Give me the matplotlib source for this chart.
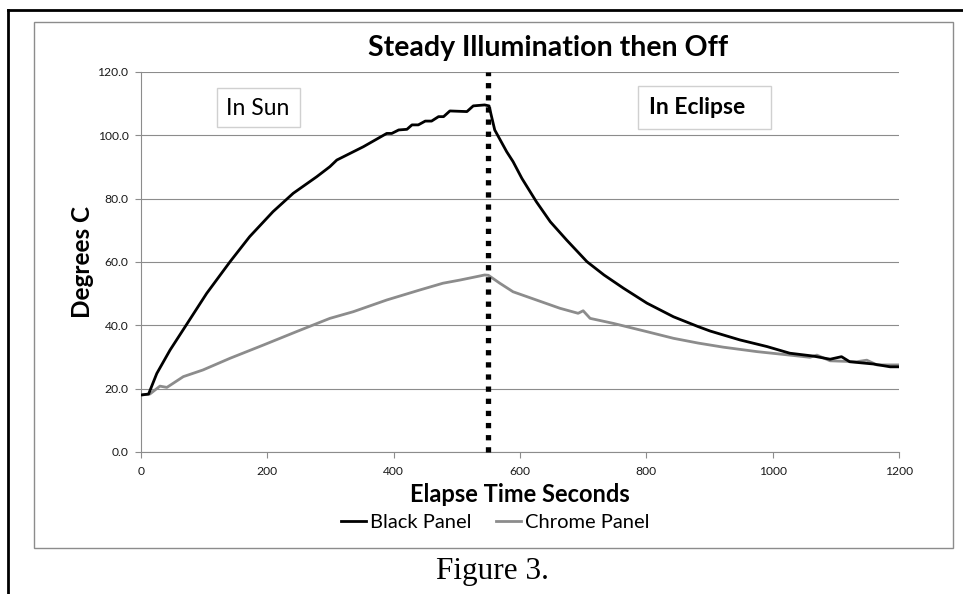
import matplotlib
matplotlib.use('Agg')
import matplotlib.pyplot as plt
from matplotlib.patches import Rectangle
from matplotlib.lines import Line2D

# values
black_t = [0, 12, 25, 46, 70, 104, 141, 172, 209, 241, 278, 299, 310, 352, 389, 397,
           408, 421, 429, 439, 450, 460, 471, 479, 489, 516, 526, 544, 551, 555, 560,
           579, 589, 603, 626, 648, 674, 706, 733, 764, 801, 843, 882, 901, 948, 991,
           1027, 1064, 1091, 1109, 1122, 1159, 1186, 1200]
black_T = [18.0, 18.3, 24.8, 32.2, 39.6, 50.1, 60.1, 68.0, 75.9, 81.7, 86.9, 90.1, 92.2,
           96.4, 100.6, 100.6, 101.7, 101.9, 103.3, 103.3, 104.5, 104.5, 105.9, 105.9,
           107.7, 107.5, 109.3, 109.6, 109.3, 105.9, 101.7, 94.8, 91.7, 86.4, 79.0,
           72.7, 66.9, 60.1, 55.9, 51.7, 47.0, 42.7, 39.6, 38.2, 35.4, 33.3, 31.2,
           30.3, 29.3, 30.1, 28.5, 27.8, 26.9, 26.9]

chrome_t = [0, 14, 30, 41, 67, 98, 141, 194, 246, 299, 336, 389, 442, 478, 505, 544,
            550, 568, 589, 626, 663, 692, 700, 711, 748, 801, 843, 882, 922, 975, 1027,
            1059, 1070, 1091, 1133, 1149, 1165, 1200]
chrome_T = [18.0, 18.3, 20.8, 20.4, 23.8, 25.9, 29.6, 33.8, 38.0, 42.2, 44.3, 48.0,
            51.2, 53.3, 54.3, 55.9, 55.8, 53.3, 50.6, 48.0, 45.4, 43.8, 44.6, 42.2,
            40.6, 38.0, 35.9, 34.4, 33.1, 31.7, 30.6, 29.9, 30.6, 28.8, 28.5, 29.0,
            27.5, 27.5]

switch_off = 550
y_ticks = [0, 20, 40, 60, 80, 100, 120]
x_ticks = [0, 200, 400, 600, 800, 1000, 1200]

W, H = 963, 594
plt.rcParams['font.family'] = ['Lato', 'DejaVu Sans']

fig = plt.figure(figsize=(W / 100, H / 100), dpi=100)

# document frame (top + left) and chart box
fig.add_artist(Line2D([8 / W, 1], [1 - 10 / H, 1 - 10 / H], color='black', lw=2,
                      transform=fig.transFigure))
fig.add_artist(Line2D([8 / W, 8 / W], [0, 1 - 10 / H], color='black', lw=2,
                      transform=fig.transFigure))
fig.add_artist(Rectangle((34 / W, 1 - 548 / H), (953 - 34) / W, (548 - 22) / H,
                         fill=False, edgecolor='#8c8c8c', lw=1, transform=fig.transFigure))

ax = fig.add_axes([141 / W, 1 - 452 / H, (899 - 141) / W, (452 - 72) / H])
ax.plot(black_t, black_T, color='black', lw=2.0, label='Black Panel', zorder=3)
ax.plot(chrome_t, chrome_T, color='#8c8c8c', lw=2.0, label='Chrome Panel', zorder=2)
ax.plot([switch_off, switch_off], [0, 120], color='black', lw=3.8,
        linestyle=(0, (1, 1.3)), zorder=4, clip_on=False)

ax.set_xlim(0, 1200)
ax.set_ylim(0, 120)
ax.set_xticks(x_ticks)
ax.set_yticks(y_ticks)
ax.set_yticklabels([f'{v:.1f}' for v in y_ticks])
ax.grid(axis='y', color='#8c8c8c', lw=0.8)
ax.set_axisbelow(True)
for s in ['top', 'right']:
    ax.spines[s].set_visible(False)
for s in ['left', 'bottom']:
    ax.spines[s].set_color('#8c8c8c')
    ax.spines[s].set_linewidth(0.8)
ax.tick_params(colors='#8c8c8c', labelcolor='#1a1a1a', labelsize=8.7, length=4, width=0.8)
ax.tick_params(axis='y', pad=5)
ax.tick_params(axis='x', pad=6)

fig.text(548 / W, 1 - 48 / H, 'Steady Illumination then Off', ha='center', va='center',
         fontsize=20.5, fontweight='bold')
fig.text(82 / W, 1 - 262 / H, 'Degrees C', ha='center', va='center', rotation=90,
         fontsize=17.5, fontweight='bold')
fig.text(520 / W, 1 - 495 / H, 'Elapse Time Seconds', ha='center', va='center',
         fontsize=17, fontweight='bold')

fig.legend(loc='center', bbox_to_anchor=(495 / W, 1 - 522 / H), ncol=2, frameon=False,
           fontsize=14.5, handlelength=1.25, handletextpad=0.2, columnspacing=1.2,
           borderpad=0, borderaxespad=0)

fig.add_artist(Rectangle((217 / W, 1 - 127 / H), 83 / W, 39 / H, facecolor='white',
                         edgecolor='#d0d0d0', lw=1, transform=fig.transFigure, zorder=5))
fig.text(258 / W, 1 - 108 / H, 'In Sun', ha='center', va='center', fontsize=16.5, zorder=6)
fig.add_artist(Rectangle((638 / W, 1 - 129 / H), 133 / W, 43 / H, facecolor='white',
                         edgecolor='#d0d0d0', lw=1, transform=fig.transFigure, zorder=5))
fig.text(697 / W, 1 - 107 / H, 'In Eclipse', ha='center', va='center', fontsize=16.5,
         fontweight='bold', zorder=6)

fig.text(492 / W, 1 - 571 / H, 'Figure 3.', ha='center', va='center', fontsize=22.5,
         family='Liberation Serif')

fig.savefig('out.png', dpi=100)
